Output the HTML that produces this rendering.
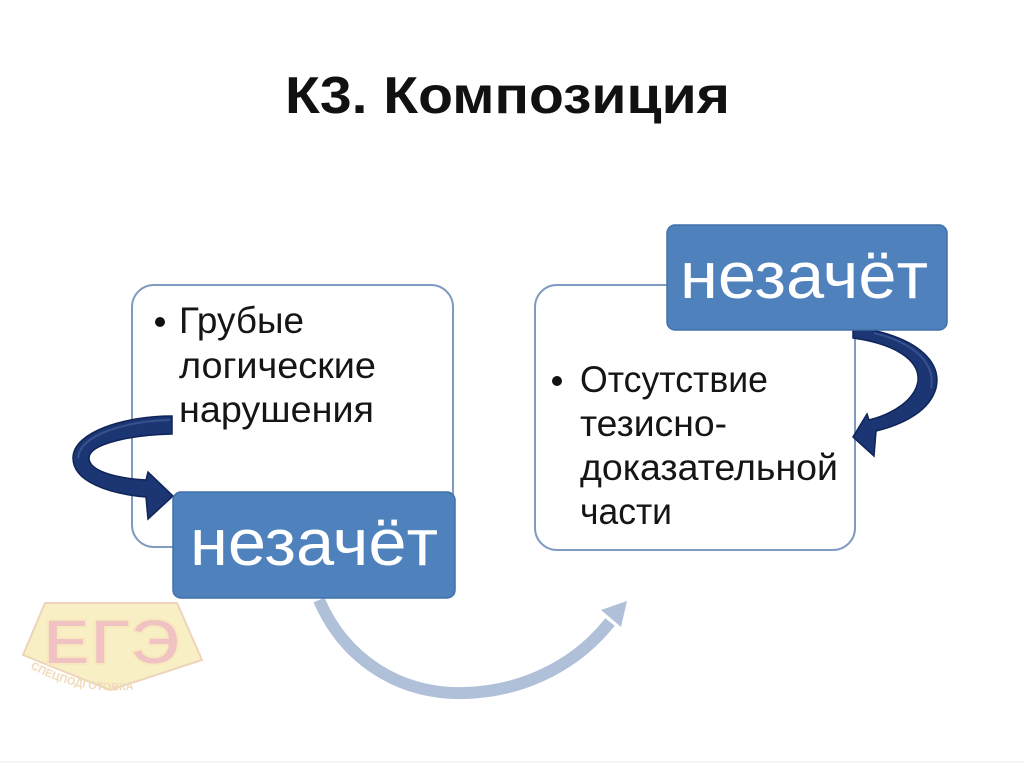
<!DOCTYPE html>
<html>
<head>
<meta charset="utf-8">
<style>
html,body{margin:0;padding:0;background:#fff;}
svg{display:block;}
text{font-family:"Liberation Sans","DejaVu Sans",sans-serif;}
</style>
</head>
<body>
<svg width="1024" height="767" viewBox="0 0 1024 767" xmlns="http://www.w3.org/2000/svg">
  <rect x="0" y="0" width="1024" height="767" fill="#ffffff"/>
  <line x1="0" y1="762" x2="1024" y2="762" stroke="#eeeeee" stroke-width="1"/>

  <!-- Title -->
  <text x="285" y="113" font-size="52" font-weight="bold" fill="#111" textLength="445" lengthAdjust="spacingAndGlyphs">К3. Композиция</text>

  <!-- Logo watermark -->
  <g opacity="0.6">
    <polygon points="45,603 177,603 202,660 110,690 23,655" fill="#f6e6a0" stroke="#e2b98e" stroke-width="2"/>
    <text x="112" y="664" font-size="64" font-weight="bold" fill="#e79a9a" stroke="#f3dc92" stroke-width="2" text-anchor="middle" textLength="138" lengthAdjust="spacingAndGlyphs">ЕГЭ</text>
    <path id="lp" d="M30,668 Q110,712 198,670" fill="none"/>
    <text font-size="11" font-weight="bold" fill="#e6c38c"><textPath href="#lp">СПЕЦПОДГОТОВКА</textPath></text>
  </g>

  <!-- Left outer box -->
  <rect x="132" y="285" width="321" height="262" rx="22" ry="22" fill="#ffffff" stroke="#7f9bc0" stroke-width="2"/>
  <!-- Right outer box -->
  <rect x="535" y="285" width="320" height="265" rx="22" ry="22" fill="#ffffff" stroke="#7f9bc0" stroke-width="2"/>

  <!-- Left body text -->
  <circle cx="160" cy="322" r="5" fill="#111"/>
  <text x="179" y="333" font-size="37" fill="#151515" textLength="125" lengthAdjust="spacingAndGlyphs">Грубые</text>
  <text x="179" y="378" font-size="37" fill="#151515" textLength="197" lengthAdjust="spacingAndGlyphs">логические</text>
  <text x="179" y="422" font-size="37" fill="#151515" textLength="195" lengthAdjust="spacingAndGlyphs">нарушения</text>

  <!-- Right body text -->
  <circle cx="557" cy="381" r="5" fill="#111"/>
  <text x="580" y="392" font-size="37" fill="#151515" textLength="188" lengthAdjust="spacingAndGlyphs">Отсутствие</text>
  <text x="580" y="436" font-size="37" fill="#151515" textLength="147" lengthAdjust="spacingAndGlyphs">тезисно-</text>
  <text x="580" y="480" font-size="37" fill="#151515" textLength="258" lengthAdjust="spacingAndGlyphs">доказательной</text>
  <text x="580" y="524" font-size="37" fill="#151515" textLength="92" lengthAdjust="spacingAndGlyphs">части</text>

  <!-- Bottom light curved arrow -->
  <path d="M319,600 C345,660 400,695 465,693 C530,691 580,660 610,622" fill="none" stroke="#b0c0d9" stroke-width="12"/>
  <polygon points="627,601 601,610 621,627" fill="#b0c0d9"/>

  <!-- Left dark curved arrow -->
  <path d="M172,416 C125,416 73,432 73,458 C73,482 110,494 146,497 L148,519 L173,496 L148,472 L146,480 C112,478 89,470 89,458 C89,444 130,435 172,434 Z" fill="#1b3673" stroke="#0f2458" stroke-width="1.5"/>
  <path d="M170,420 C128,421 80,434 78,458" fill="none" stroke="#4a64a0" stroke-width="2" opacity="0.6"/>

  <!-- Right dark curved arrow -->
  <path d="M853,330 L872,330 C918,340 942,362 936,388 C930,410 905,424 876,431 L874,456 L853,437 L867,414 L869,420 C893,414 915,400 918,381 C920,360 895,344 853,338 Z" fill="#1b3673" stroke="#0f2458" stroke-width="1.5"/>
  <path d="M874,333 C915,343 936,364 931,388" fill="none" stroke="#4a64a0" stroke-width="2" opacity="0.6"/>

  <!-- Left blue box -->
  <rect x="173" y="492" width="282" height="106" rx="8" ry="8" fill="#4f81bd" stroke="#4170aa" stroke-width="1.5"/>
  <text x="190" y="565" font-size="66" fill="#ffffff" textLength="248" lengthAdjust="spacingAndGlyphs">незачёт</text>

  <!-- Right blue box -->
  <rect x="667" y="225" width="280" height="105" rx="8" ry="8" fill="#4f81bd" stroke="#4170aa" stroke-width="1.5"/>
  <text x="680" y="298" font-size="66" fill="#ffffff" textLength="248" lengthAdjust="spacingAndGlyphs">незачёт</text>
</svg>
</body>
</html>
